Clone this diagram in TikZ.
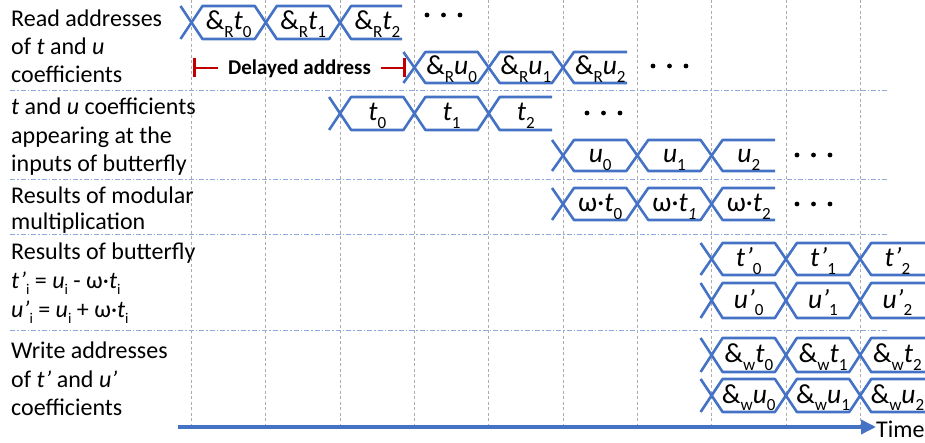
\documentclass[tikz,border=0pt]{standalone}
\usepackage{fontspec}
\setmainfont{Carlito}
\usetikzlibrary{arrows.meta}
\definecolor{busblue}{HTML}{4472C4}
\definecolor{seplight}{HTML}{8FAADC}
\definecolor{darkred}{HTML}{C00000}
\newcommand\lowsub[1]{\raisebox{-0.28em}{\fontsize{0.62em}{0.7em}\selectfont\upshape #1}}
\newcommand\busrow[6]{%
  % #1 name, #2 grid index, #3 ytop, #4 ybot, #5 open end x, #6 labels
  \pgfmathsetmacro\xa{191.5+74.3*#2}%
  \pgfmathsetmacro\ym{(#3+#4)/2}%
  \draw[busline] (\xa-11,#3) -- (\xa,\ym) -- (\xa-11,#4);
  \foreach \lab [count=\i from 0] in {#6} {%
    \pgfmathsetmacro\xl{\xa+74.3*\i}%
    \pgfmathsetmacro\xr{\xl+74.3}%
    \ifnum\i<2
      \draw[busline] (\xl,\ym) -- (\xl+11,#3) -- (\xr-11,#3) -- (\xr,\ym) -- (\xr-11,#4) -- (\xl+11,#4) -- cycle;
    \else
      \draw[busline] (#5,#3) -- (\xl+11,#3) -- (\xl,\ym) -- (\xl+11,#4) -- (#5,#4);
    \fi
    \node[bustext] (#1\i) at ({\xl+37.15},{\ym+7.5}) {\lab};
  }%
}
\newcommand\dotrow[2]{%
  \foreach \d in {0,1,2} \fill[black] ({#1+16.5*\d},#2) circle[radius=2.4pt];
}
\begin{document}
\begin{tikzpicture}[x=1pt,y=-1pt,
  gridline/.style={draw=gray!65, line width=0.8pt, dash pattern=on 3pt off 2.5pt},
  sepline/.style={draw=seplight, line width=0.9pt, dash pattern=on 5pt off 2pt on 1.5pt off 2pt},
  busline/.style={draw=busblue, line width=2.6pt, line join=round},
  bustext/.style={inner sep=0pt, anchor=base, font=\fontsize{27.5}{30}\selectfont},
  lefttext/.style={inner sep=0pt, anchor=base west, font=\fontsize{24}{28}\selectfont},
  redline/.style={draw=darkred, line width=2.6pt},
  timearrow/.style={draw=busblue, line width=3.5pt, -{Triangle[length=15pt,width=14pt]}},
  ]
\useasboundingbox (0,0) rectangle (925,443);
% grid
\foreach \k in {0,...,9} \draw[gridline] ({191.5+74.3*\k},0) -- ({191.5+74.3*\k},426);
% separators
\foreach \yy in {90.5,179,234,330} \draw[sepline] (10,\yy) -- (887,\yy);
% left labels
\node[lefttext] (l1a) at (11,27) {Read addresses};
\node[lefttext] (l1b) at (11,55) {of \textit{t} and \textit{u}};
\node[lefttext] (l1c) at (11,83) {coefficients};
\node[lefttext] (l2a) at (11,115) {\textit{t} and \textit{u} coefficients};
\node[lefttext] (l2b) at (11,143.5) {appearing at the};
\node[lefttext] (l2c) at (11,172) {inputs of butterfly};
\node[lefttext] (l3a) at (11,204) {Results of modular};
\node[lefttext] (l3b) at (11,230) {multiplication};
\node[lefttext] (l4a) at (11,260) {Results of butterfly};
\node[lefttext] (l4b) at (11,288) {\textit{t’}\lowsub{i} = \textit{u}\lowsub{i} - ω·\textit{t}\lowsub{i}};
\node[lefttext] (l4c) at (11,317) {\textit{u’}\lowsub{i} = \textit{u}\lowsub{i} + ω·\textit{t}\lowsub{i}};
\node[lefttext] (l5a) at (11,358) {Write addresses};
\node[lefttext] (l5b) at (11,387) {of \textit{t’} and \textit{u’}};
\node[lefttext] (l5c) at (11,415) {coefficients};
% bus rows
\busrow{ra}{0}{6}{39}{402}{{\&\lowsub{R}\textit{t}\lowsub{0}},{\&\lowsub{R}\textit{t}\lowsub{1}},{\&\lowsub{R}\textit{t}\lowsub{2}}}
\busrow{rb}{3}{52}{83}{627}{{\&\lowsub{R}\textit{u}\lowsub{0}},{\&\lowsub{R}\textit{u}\lowsub{1}},{\&\lowsub{R}\textit{u}\lowsub{2}}}
\busrow{ta}{2}{97}{130}{552}{{\textit{t}\lowsub{0}},{\textit{t}\lowsub{1}},{\textit{t}\lowsub{2}}}
\busrow{ua}{5}{140}{171}{775}{{\textit{u}\lowsub{0}},{\textit{u}\lowsub{1}},{\textit{u}\lowsub{2}}}
\busrow{wt}{5}{188}{220}{775}{{ω·\textit{t}\lowsub{0}},{ω·\textit{t}\lowsub{\itshape 1}},{ω·\textit{t}\lowsub{2}}}
\busrow{tp}{7}{243}{275}{925}{{\textit{t’}\lowsub{0}},{\textit{t’}\lowsub{1}},{\textit{t’}\lowsub{2}}}
\busrow{up}{7}{283}{318}{925}{{\textit{u’}\lowsub{0}},{\textit{u’}\lowsub{1}},{\textit{u’}\lowsub{2}}}
\busrow{wa}{7}{338}{372}{925}{{\&\lowsub{w}\textit{t}\lowsub{0}},{\&\lowsub{w}\textit{t}\lowsub{1}},{\&\lowsub{w}\textit{t}\lowsub{2}}}
\busrow{wb}{7}{379}{412}{925}{{\&\lowsub{w}\textit{u}\lowsub{0}},{\&\lowsub{w}\textit{u}\lowsub{1}},{\&\lowsub{w}\textit{u}\lowsub{2}}}
% ellipsis dots
\dotrow{427}{15}
\dotrow{653}{66}
\dotrow{587}{113}
\dotrow{797}{155}
\dotrow{797}{204}
% delayed address
\coordinate (dl) at (193,68);
\coordinate (dr) at (406,68);
\node[inner xsep=10pt, inner ysep=0pt, anchor=base, font=\fontsize{21}{24}\selectfont\bfseries] (delay) at (299.5,75) {Delayed address};
\draw[redline, {Bar[width=19pt]}-] (dl) -- (delay.west |- dl);
\draw[redline, -{Bar[width=19pt]}] (delay.east |- dr) -- (dr);
% time axis
\coordinate (t0) at (178,427);
\coordinate (t1) at (876,427);
\draw[timearrow] (t0) -- (t1);
\node[inner sep=0pt, anchor=base west, font=\fontsize{24}{28}\selectfont] (time) at (876,437) {Time};
\end{tikzpicture}
\end{document}
